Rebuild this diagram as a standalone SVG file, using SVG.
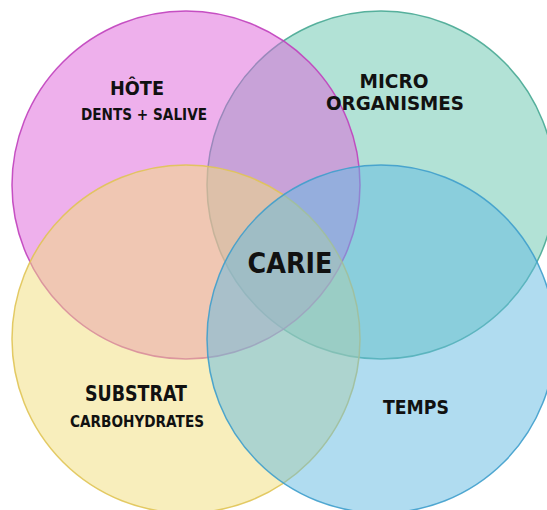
<svg xmlns="http://www.w3.org/2000/svg" width="547" height="510" viewBox="0 0 547 510">
<style>
.c{fill-opacity:0.5;stroke-width:1.5;stroke-opacity:0.9}
.t{font-family:"Comic Sans MS","DejaVu Sans","Liberation Sans",sans-serif;font-weight:bold;fill:#111;text-anchor:middle}
</style>
<rect width="547" height="510" fill="#ffffff"/>
<g id="micro"><circle class="c" cx="381" cy="185" r="174" fill="#65c5ad" stroke="#48a894"/></g>
<g id="hote"><circle class="c" cx="186" cy="185" r="174" fill="#dd61d9" stroke="#c040bc"/></g>
<g id="substrat"><circle class="c" cx="186" cy="339" r="174" fill="#f1dd79" stroke="#e0c455"/></g>
<g id="temps"><circle class="c" cx="381" cy="339" r="174" fill="#61b9e1" stroke="#3f9fcc"/></g>
<g id="labels">
<text class="t" x="137" y="95" font-size="20" textLength="54" lengthAdjust="spacingAndGlyphs">HÔTE</text>
<text class="t" x="144" y="120" font-size="15" textLength="126" lengthAdjust="spacingAndGlyphs">DENTS + SALIVE</text>
<text class="t" x="394" y="88" font-size="20" textLength="69" lengthAdjust="spacingAndGlyphs">MICRO</text>
<text class="t" x="395" y="110" font-size="20" textLength="138" lengthAdjust="spacingAndGlyphs">ORGANISMES</text>
<text class="t" x="290" y="273" font-size="29" textLength="85" lengthAdjust="spacingAndGlyphs">CARIE</text>
<text class="t" x="136" y="401" font-size="21" textLength="102" lengthAdjust="spacingAndGlyphs">SUBSTRAT</text>
<text class="t" x="137" y="427" font-size="16" textLength="134" lengthAdjust="spacingAndGlyphs">CARBOHYDRATES</text>
<text class="t" x="416" y="414" font-size="20" textLength="66" lengthAdjust="spacingAndGlyphs">TEMPS</text>
</g>
</svg>
